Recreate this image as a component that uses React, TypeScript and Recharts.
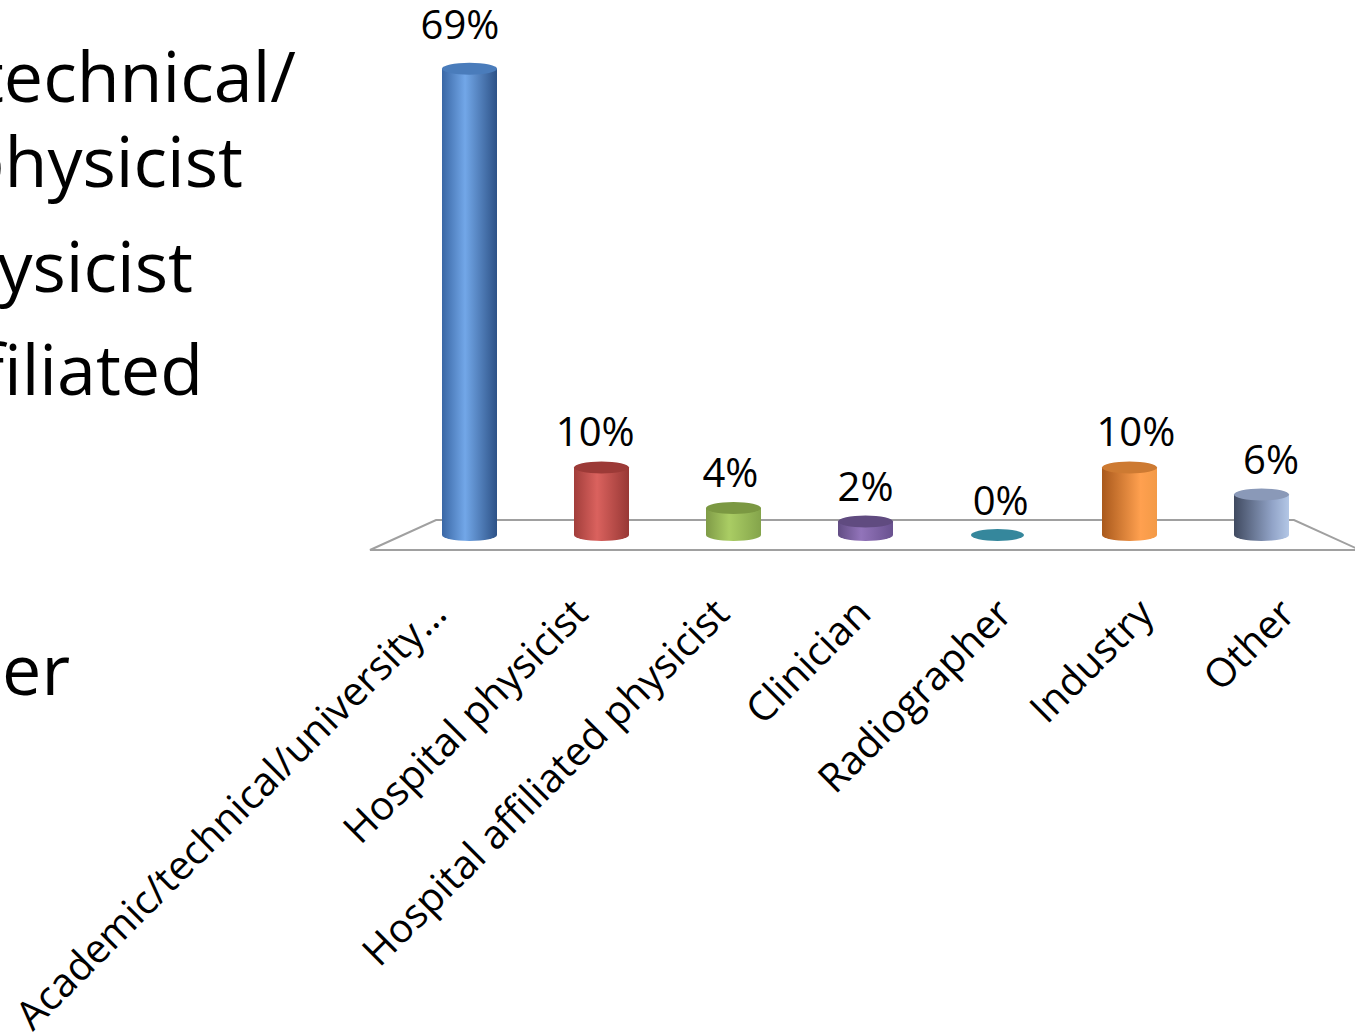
import React from 'react'
import { BarChart, Bar, XAxis, YAxis, LabelList, Customized } from 'recharts'

// survey answers: respondent role
const categories = [
  'Academic/technical/university…',
  'Hospital physicist',
  'Hospital affiliated physicist',
  'Clinician',
  'Radiographer',
  'Industry',
  'Other',
]
const shares = [69, 10, 4, 2, 0, 10, 6]

// bullet text of the slide, cut off by the left edge
const slideLines = ['Academic/technical/', 'university physicist', 'Hospital physicist', 'Hospital affiliated', 'Other']

const data = categories.map((name, i) => ({ name, share: shares[i] }))

const FONT = "'Open Sans', sans-serif"
const W = 1355
const H = 1034
const PLOT_LEFT = 403
const PLOT_RIGHT = 1327
const PLOT_TOP = 62
const ZERO_Y = 535
const DEPTH = 15
const SHEAR = 33
const MID_X = (PLOT_LEFT + PLOT_RIGHT) / 2

const slideLayout = [
  { right: 296, baseline: 102 },
  { right: 243, baseline: 187 },
  { right: 193, baseline: 292 },
  { right: 203, baseline: 395 },
  { right: 70, baseline: 695 },
]

const palette = [
  { left: '#3a67a5', light: '#72a7e8', right: '#2d5287', top: '#4a7cbb' },
  { left: '#a23e3b', light: '#da625e', right: '#983835', top: '#9c3a37' },
  { left: '#7f9b47', light: '#aacd64', right: '#84a44b', top: '#7b9842' },
  { left: '#624d84', light: '#9274ba', right: '#69518f', top: '#604b80' },
  { left: '#31849b', light: '#3a93ab', right: '#2f7f95', top: '#35879c' },
  { left: '#a9591c', light: '#ffa04f', right: '#f39a47', top: '#cd7a32' },
  { left: '#404a60', light: '#92a4c8', right: '#b3c7e6', top: '#8a99b8' },
]

const Floor = () => {
  const backY = ZERO_Y - DEPTH
  const frontY = ZERO_Y + DEPTH
  const d = `M${PLOT_LEFT - SHEAR},${frontY} L${PLOT_LEFT + SHEAR},${backY} L${PLOT_RIGHT - SHEAR},${backY} L${PLOT_RIGHT + SHEAR},${frontY} Z`
  return <path d={d} fill="none" stroke="#a0a0a0" strokeWidth={2} />
}

const Cylinder = (props: any) => {
  const { x, y, width, height, index } = props
  const c = palette[index % palette.length]
  const rx = width / 2
  const ry = 6
  const cx = x + rx
  if (!height || height < 1) {
    return <ellipse cx={cx} cy={y} rx={rx - 1} ry={ry} fill={c.top} />
  }
  const id = `cyl-grad-${index}`
  const bottom = y + height
  return (
    <g>
      <defs>
        <linearGradient id={id} x1="0" y1="0" x2="1" y2="0">
          <stop offset="0" stopColor={c.left} />
          <stop offset={index === 5 || index === 6 ? '0.7' : '0.42'} stopColor={c.light} />
          <stop offset="1" stopColor={c.right} />
        </linearGradient>
      </defs>
      <path
        d={`M${x},${y} L${x},${bottom} A${rx},${ry} 0 0 0 ${x + width},${bottom} L${x + width},${y} Z`}
        fill={`url(#${id})`}
      />
      <ellipse cx={cx} cy={y} rx={rx} ry={ry} fill={c.top} />
    </g>
  )
}

const ValueLabel = (props: any) => {
  const { x, y, width, height, value } = props
  const cx = x + width / 2
  // slight perspective spread, like the 3D original
  const lx = cx + (cx - MID_X) * 0.024
  const ly = y - 20 - Math.max(0, height) * 0.02
  return (
    <text x={lx} y={ly} textAnchor="middle" fontSize={40} fontFamily={FONT} fill="#000">
      {`${value}%`}
    </text>
  )
}

const SlantedTick = (props: any) => {
  const { x, payload } = props
  // labels sit on the front edge of the floor, which is wider than the plot
  const ax = x + (x - MID_X) * ((2 * SHEAR) / (PLOT_RIGHT - PLOT_LEFT)) + 8
  const ay = ZERO_Y + 81
  return (
    <text
      x={ax}
      y={ay}
      transform={`rotate(-45 ${ax} ${ay})`}
      textAnchor="end"
      fontSize={40}
      fontFamily={FONT}
      fill="#000"
    >
      {payload.value}
    </text>
  )
}

export default function App() {
  return (
    <div style={{ position: 'absolute', left: 0, top: 0, width: W, height: H, overflow: 'hidden', background: '#fff' }}>
      <svg width={W} height={H} style={{ position: 'absolute', left: 0, top: 0 }}>
        {slideLines.map((line, i) => (
          <text
            key={line}
            x={slideLayout[i].right}
            y={slideLayout[i].baseline}
            textAnchor="end"
            fontSize={70}
            fontFamily={FONT}
            fill="#000"
          >
            {line}
          </text>
        ))}
      </svg>
      <div style={{ position: 'absolute', left: 0, top: 0 }}>
        <BarChart
          width={W}
          height={H}
          data={data}
          margin={{ top: PLOT_TOP, right: W - PLOT_RIGHT, left: PLOT_LEFT, bottom: 0 }}
          barSize={55}
        >
          <Customized component={Floor} />
          <XAxis
            dataKey="name"
            height={H - ZERO_Y}
            axisLine={false}
            tickLine={false}
            interval={0}
            tick={<SlantedTick />}
          />
          <YAxis hide domain={[0, 70]} />
          <Bar dataKey="share" shape={<Cylinder />} isAnimationActive={false}>
            <LabelList dataKey="share" content={<ValueLabel />} />
          </Bar>
        </BarChart>
      </div>
    </div>
  )
}
